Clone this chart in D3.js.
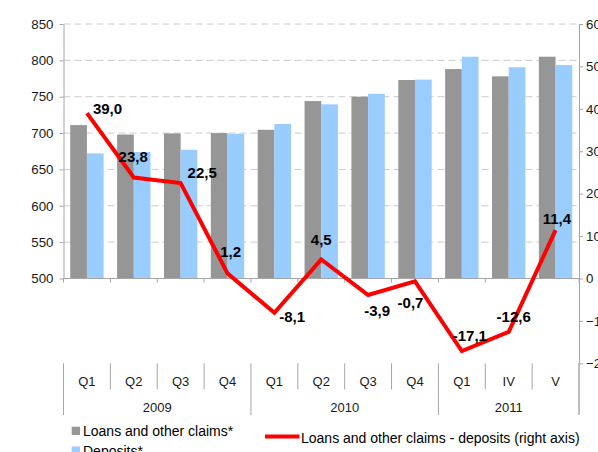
<!DOCTYPE html>
<html>
<head>
<meta charset="utf-8">
<script src="https://cdn.jsdelivr.net/npm/d3@7"></script>
<style>
  html, body { margin: 0; padding: 0; background: #fff; }
  svg { display: block; font-family: "Liberation Sans", Arial, sans-serif; }
</style>
</head>
<body>
<svg id="chart" width="598" height="452"></svg>
<script>
// ---- data ----
const quarters = ["Q1", "Q2", "Q3", "Q4", "Q1", "Q2", "Q3", "Q4", "Q1", "IV", "V"];
const years = ["2009", "2010", "2011"];
const yearSpans = [4, 4, 3];
const loans = [711, 698, 699.5, 700, 704.5, 744, 750, 773, 788, 778, 805];
const deposits = [672, 674, 677, 699, 712.5, 739.5, 754, 773.5, 805, 790.5, 793.5];
const diff = [39.0, 23.8, 22.5, 1.2, -8.1, 4.5, -3.9, -0.7, -17.1, -12.6, 11.4];
const leftTicks = [500, 550, 600, 650, 700, 750, 800, 850];
const rightTicks = [-20, -10, 0, 10, 20, 30, 40, 50, 60];
const legendLabels = ["Loans and other claims*", "Deposits*", "Loans and other claims - deposits (right axis)"];

// label placement (offset of label centre from its point, px)
const labelOffsets = [[20.6, -4.5], [-0.6, -20.4], [21.5, -10], [3.2, -21.5], [17.7, 4], [0, -20],
                      [9, 16], [-4.5, 21], [8, -15.7], [5, -15.6], [1.3, -11.6]];

// ---- layout ----
const plotL = 63.5, plotR = 579, plotT = 24, plotB = 363.3;
const colGrey = "#969696", colBlue = "#99ccff", colRed = "#ff0000", axisCol = "#a6a6a6";

const svg = d3.select("#chart");

const idx = quarters.map((q, i) => i);
const x = d3.scaleBand().domain(idx).range([plotL, plotR]).paddingInner(0).paddingOuter(0);
const xs = d3.scaleBand().domain(["loans", "deposits"]).range([0, x.bandwidth()]).paddingInner(0).paddingOuter(0.404);

const yR = d3.scaleLinear().domain([-20, 60]).range([plotB, plotT]);
const y0 = yR(0);
const yL = d3.scaleLinear().domain([500, 850]).range([y0, plotT]);

// gridlines (dashed)
svg.append("g").selectAll("line").data(leftTicks.filter(v => v > 500)).join("line")
  .attr("x1", plotL).attr("x2", plotR)
  .attr("y1", d => yL(d)).attr("y2", d => yL(d))
  .attr("stroke", "#cccccc").attr("stroke-width", 1).attr("stroke-dasharray", "7,4");

// bars
const bars = svg.append("g");
bars.selectAll("rect.loans").data(loans).join("rect").attr("class", "loans")
  .attr("x", (d, i) => x(i) + xs("loans")).attr("width", xs.bandwidth())
  .attr("y", d => yL(d)).attr("height", d => yL(500) - yL(d)).attr("fill", colGrey);
bars.selectAll("rect.deps").data(deposits).join("rect").attr("class", "deps")
  .attr("x", (d, i) => x(i) + xs("deposits")).attr("width", xs.bandwidth())
  .attr("y", d => yL(d)).attr("height", d => yL(500) - yL(d)).attr("fill", colBlue);

// left axis
const axL = svg.append("g").attr("transform", `translate(${plotL},0)`)
  .call(d3.axisLeft(yL).tickValues(leftTicks).tickSize(4).tickSizeOuter(0).tickPadding(6));
axL.select(".domain").attr("stroke", axisCol);
axL.selectAll(".tick line").attr("stroke", axisCol);
axL.selectAll("text").attr("font-size", "13.3px").attr("fill", "#1a1a1a")
  .attr("font-family", "'Liberation Sans', Arial, sans-serif");

// right axis
const axR = svg.append("g").attr("transform", `translate(${plotR},0)`)
  .call(d3.axisRight(yR).tickValues(rightTicks).tickSize(4).tickSizeOuter(0).tickPadding(3));
axR.select(".domain").attr("stroke", axisCol);
axR.selectAll(".tick line").attr("stroke", axisCol);
axR.selectAll("text").attr("font-size", "13.3px").attr("fill", "#1a1a1a")
  .attr("font-family", "'Liberation Sans', Arial, sans-serif");
svg.append("line").attr("x1", plotR).attr("x2", plotR).attr("y1", plotB).attr("y2", 415)
  .attr("stroke", axisCol);

// horizontal axis line at 0 / 500 with downward ticks
svg.append("line").attr("x1", plotL).attr("x2", plotR).attr("y1", y0).attr("y2", y0)
  .attr("stroke", axisCol).attr("stroke-width", 1.2);
const bounds = d3.range(quarters.length + 1).map(i => plotL + i * x.step());
svg.append("g").selectAll("line").data(bounds).join("line")
  .attr("x1", d => d).attr("x2", d => d).attr("y1", y0).attr("y2", y0 + 4)
  .attr("stroke", axisCol);

// category area separators
let cum = [0];
yearSpans.forEach(s => cum.push(cum[cum.length - 1] + s));
svg.append("g").selectAll("line").data(bounds).join("line")
  .attr("x1", d => d).attr("x2", d => d)
  .attr("y1", plotB)
  .attr("y2", (d, i) => cum.includes(i) ? 415 : 389.5)
  .attr("stroke", axisCol);

// quarter labels
svg.append("g").selectAll("text").data(quarters).join("text")
  .attr("x", (d, i) => x(i) + x.bandwidth() / 2).attr("y", 381 + 4.7)
  .attr("text-anchor", "middle").attr("font-size", "13px").attr("fill", "#1a1a1a")
  .text(d => d);

// year labels
svg.append("g").selectAll("text").data(years).join("text")
  .attr("x", (d, i) => (bounds[cum[i]] + bounds[cum[i + 1]]) / 2).attr("y", 407 + 4.7)
  .attr("text-anchor", "middle").attr("font-size", "13px").attr("fill", "#1a1a1a")
  .text(d => d);

// line
const cx = i => x(i) + x.bandwidth() / 2;
svg.append("path").datum(diff)
  .attr("d", d3.line().x((d, i) => cx(i)).y(d => yR(d)))
  .attr("fill", "none").attr("stroke", colRed).attr("stroke-width", 4)
  .attr("stroke-linejoin", "miter");

// data labels
svg.append("g").selectAll("text").data(diff).join("text")
  .attr("x", (d, i) => cx(i) + labelOffsets[i][0])
  .attr("y", (d, i) => yR(d) + labelOffsets[i][1] + 5.3)
  .attr("text-anchor", "middle").attr("font-size", "15px").attr("font-weight", "bold")
  .attr("fill", "#000")
  .text(d => d.toFixed(1).replace(".", ","));

// legend
const lg = svg.append("g");
lg.append("rect").attr("x", 71.7).attr("y", 426.7).attr("width", 8.3).attr("height", 8.3).attr("fill", colGrey);
lg.append("text").attr("x", 83).attr("y", 431 + 5).attr("font-size", "14px").attr("fill", "#000").text(legendLabels[0]);
lg.append("rect").attr("x", 71.7).attr("y", 446.5).attr("width", 8.3).attr("height", 8.3).attr("fill", colBlue);
lg.append("text").attr("x", 83).attr("y", 451 + 5).attr("font-size", "14px").attr("fill", "#000").text(legendLabels[1]);
lg.append("line").attr("x1", 265).attr("x2", 299.5).attr("y1", 436.5).attr("y2", 436.5)
  .attr("stroke", colRed).attr("stroke-width", 4);
lg.append("text").attr("x", 301).attr("y", 438.3 + 5).attr("font-size", "14px").attr("fill", "#000").text(legendLabels[2]);
</script>
</body>
</html>
